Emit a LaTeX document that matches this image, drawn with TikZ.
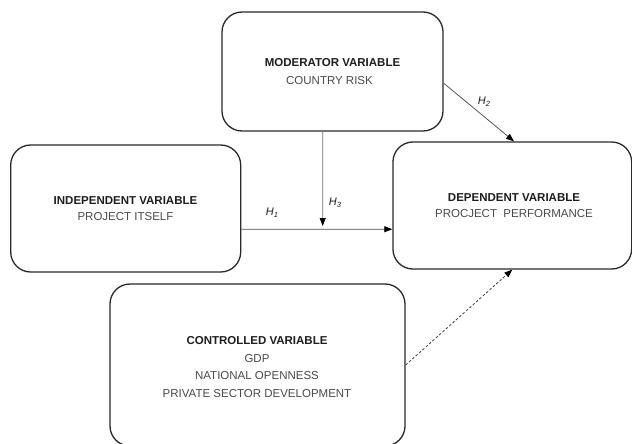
\documentclass[tikz,border=0pt]{standalone}
\usepackage{fontspec}
\setmainfont{Liberation Sans}
\usetikzlibrary{arrows.meta,calc}
\definecolor{txtgray}{HTML}{4A4A4A}
\definecolor{txtdark}{HTML}{1E1E1E}
\definecolor{boxline}{HTML}{2A2A2A}
\begin{document}
\begin{tikzpicture}[x=1pt,y=-1pt,
  varbox/.style={draw=boxline,line width=1.3pt,rounded corners=20pt,inner sep=0pt,fill=none},
  ttl/.style={font=\fontsize{11.5}{13}\selectfont\bfseries,text=txtdark,inner sep=0pt},
  sub/.style={font=\fontsize{11.5}{13}\selectfont,text=txtgray,inner sep=0pt},
  hlab/.style={font=\fontsize{11}{12}\selectfont\itshape,text=txtdark,inner sep=0pt},
  conn/.style={-{Triangle[length=8pt,width=6pt,color=black,fill=black]},line width=0.8pt}
]
\useasboundingbox (0,0) rectangle (632,444);
\fill[white] (0,0) rectangle (632,444);

% boxes
\node[varbox,minimum width=221pt,minimum height=119pt] (mod) at (332.5,71.5) {};
\node[varbox,minimum width=230pt,minimum height=127pt] (ind) at (125.7,208.5) {};
\node[varbox,minimum width=238.7pt,minimum height=127pt] (dep) at (512.3,205.5) {};
\node[varbox,minimum width=295pt,minimum height=162pt] (ctl) at (257.5,365) {};

% texts
\node[ttl] (modt) at (332.5,63) {MODERATOR VARIABLE};
\node[sub] (mods) at (329.5,81) {COUNTRY RISK};
\node[ttl] (indt) at (125.5,201) {INDEPENDENT VARIABLE};
\node[sub] (inds) at (125.5,217) {PROJECT ITSELF};
\node[ttl] (dept) at (514,198) {DEPENDENT VARIABLE};
\node[sub] (deps) at (514,213.5) {PROCJECT\ \ PERFORMANCE};
\node[ttl] (ctlt) at (257,341) {CONTROLLED VARIABLE};
\node[sub] (ctl1) at (257,358.5) {GDP};
\node[sub] (ctl2) at (257,376) {NATIONAL OPENNESS};
\node[sub] (ctl3) at (257,393.5) {PRIVATE SECTOR DEVELOPMENT};

% connectors
\coordinate (h3tip) at (322.7,226);
\draw[conn,draw=black!55] ($(mod.south west)!0.4557!(mod.south east)$) -- (h3tip);
\draw[conn,draw=black!70] ($(ind.north east)!0.661!(ind.south east)$) -- ($(dep.north west)!0.685!(dep.south west)$);
\draw[conn,draw=black!65] ($(mod.north east)!0.597!(mod.south east)$) -- ($(dep.north west)!0.507!(dep.north east)$);
\draw[conn,draw=black!75,dash pattern=on 2.5pt off 2pt] (ctl.east) -- (dep.south);

% hypothesis labels
\node[hlab] (h1) at (272,213) {H\raisebox{-2pt}{\fontsize{7.5}{8}\selectfont 1}};
\node[hlab] (h2) at (484,102) {H\raisebox{-2pt}{\fontsize{7.5}{8}\selectfont 2}};
\node[hlab] (h3) at (335,203) {H\raisebox{-2pt}{\fontsize{7.5}{8}\selectfont 3}};
\end{tikzpicture}
\end{document}
